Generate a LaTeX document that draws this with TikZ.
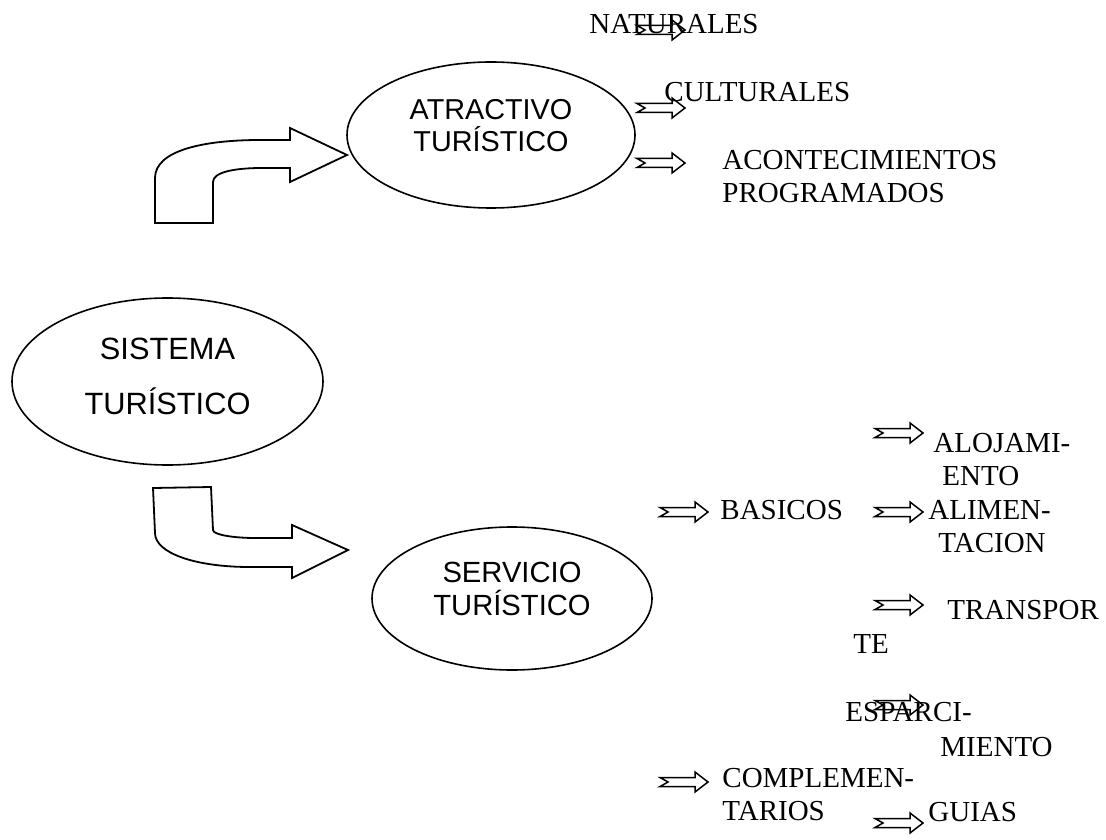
\documentclass[tikz,border=0pt]{standalone}
\usepackage{fontspec}
\setmainfont{Liberation Serif}
\newfontfamily\arialfont{Liberation Sans}
\usetikzlibrary{shapes.geometric}

\tikzset{
	blob/.style={shape=ellipse,draw=black,line width=0.8pt,inner sep=0pt},
	blobtext/.style={align=center,inner sep=0pt,font=\arialfont\fontsize{14.4}{16}\selectfont},
	item/.style={anchor=north west,inner sep=0pt,align=left,font=\fontsize{14.5}{16.5}\selectfont},
	bigarrow/.style={draw=black,line width=0.9pt,line join=miter},
	pics/notcharrow/.style={code={
		\draw[line width=0.75pt] (0,-4.5) -- (35,-4.5) -- (35,-10) -- (48,0) -- (35,10) -- (35,4.5) -- (0,4.5) -- (8,0) -- cycle;
	}}
}

\begin{document}
\begin{tikzpicture}[x=0.5pt,y=-0.5pt]
	\useasboundingbox (0,0) rectangle (1106,839);

	% the three ellipses
	\node[blob,minimum width=155.5pt,minimum height=83.5pt] (sistema) at (167.5,381.5) {};
	\node[blob,minimum width=144pt,minimum height=73pt] (atractivo) at (491,135) {};
	\node[blob,minimum width=140pt,minimum height=71.5pt] (servicio) at (512,598.5) {};

	\node[blobtext,font=\arialfont\fontsize{15.4}{27.5}\selectfont] (sistematxt) at (167.5,376.5) {SISTEMA\\TURÍSTICO};
	\node[blobtext] (atractivotxt) at (491,126) {ATRACTIVO\\TURÍSTICO};
	\node[blobtext,font=\arialfont\fontsize{14.6}{16.5}\selectfont] (serviciotxt) at (512,588.5) {SERVICIO\\TURÍSTICO};

	% bent arrows
	\draw[bigarrow] (155,223) -- (155,178) .. controls (155,150) and (205,140) .. (260,140) -- (290,140)
		-- (290,128) -- (347,155) -- (290,182) -- (290,168) -- (262,168)
		.. controls (235,168) and (213,172) .. (213,182) -- (213,223) -- cycle;
	\draw[bigarrow] (153,488) -- (211,487) -- (213,530) .. controls (213,535) and (235,538) .. (255,538)
		-- (292,538) -- (292,525) -- (348,550) -- (292,578) -- (292,567) -- (250,567)
		.. controls (195,567) and (155,553) .. (155,533) -- cycle;

	% attractions
	\node[item] (naturales) at (589,14) {NATURALES};
	\node[item] (culturales) at (664,82) {CULTURALES};
	\node[item] (acontec) at (722,150) {ACONTECIMIENTOS\\PROGRAMADOS};
	\pic at (637,30) {notcharrow};
	\pic at (637,108) {notcharrow};
	\pic at (637,163) {notcharrow};

	% services
	\node[item] (basicos) at (720,500) {BASICOS};
	\node[item] (complem) at (722,768) {COMPLEMEN-\\TARIOS};
	\node[item] (alojam) at (933,433) {ALOJAMI-\\\hspace*{4.5pt}ENTO};
	\node[item] (alimen) at (928,500) {ALIMEN-\\\hspace*{5pt}TACION};
	\node[item,font=\fontsize{14.5}{17}\selectfont] (transp) at (853,600) {\hspace*{47pt}TRANSPOR\\TE};
	\node[item,font=\fontsize{14.5}{17.5}\selectfont] (esparc) at (845,702) {ESPARCI-\\\hspace*{47.5pt}MIENTO};
	\node[item] (guias) at (928,802) {GUIAS};
	\pic at (660,512) {notcharrow};
	\pic at (660,782) {notcharrow};
	\pic at (875,433) {notcharrow};
	\pic at (875,512) {notcharrow};
	\pic at (875,605) {notcharrow};
	\pic at (875,705) {notcharrow};
	\pic at (875,823) {notcharrow};
\end{tikzpicture}
\end{document}
